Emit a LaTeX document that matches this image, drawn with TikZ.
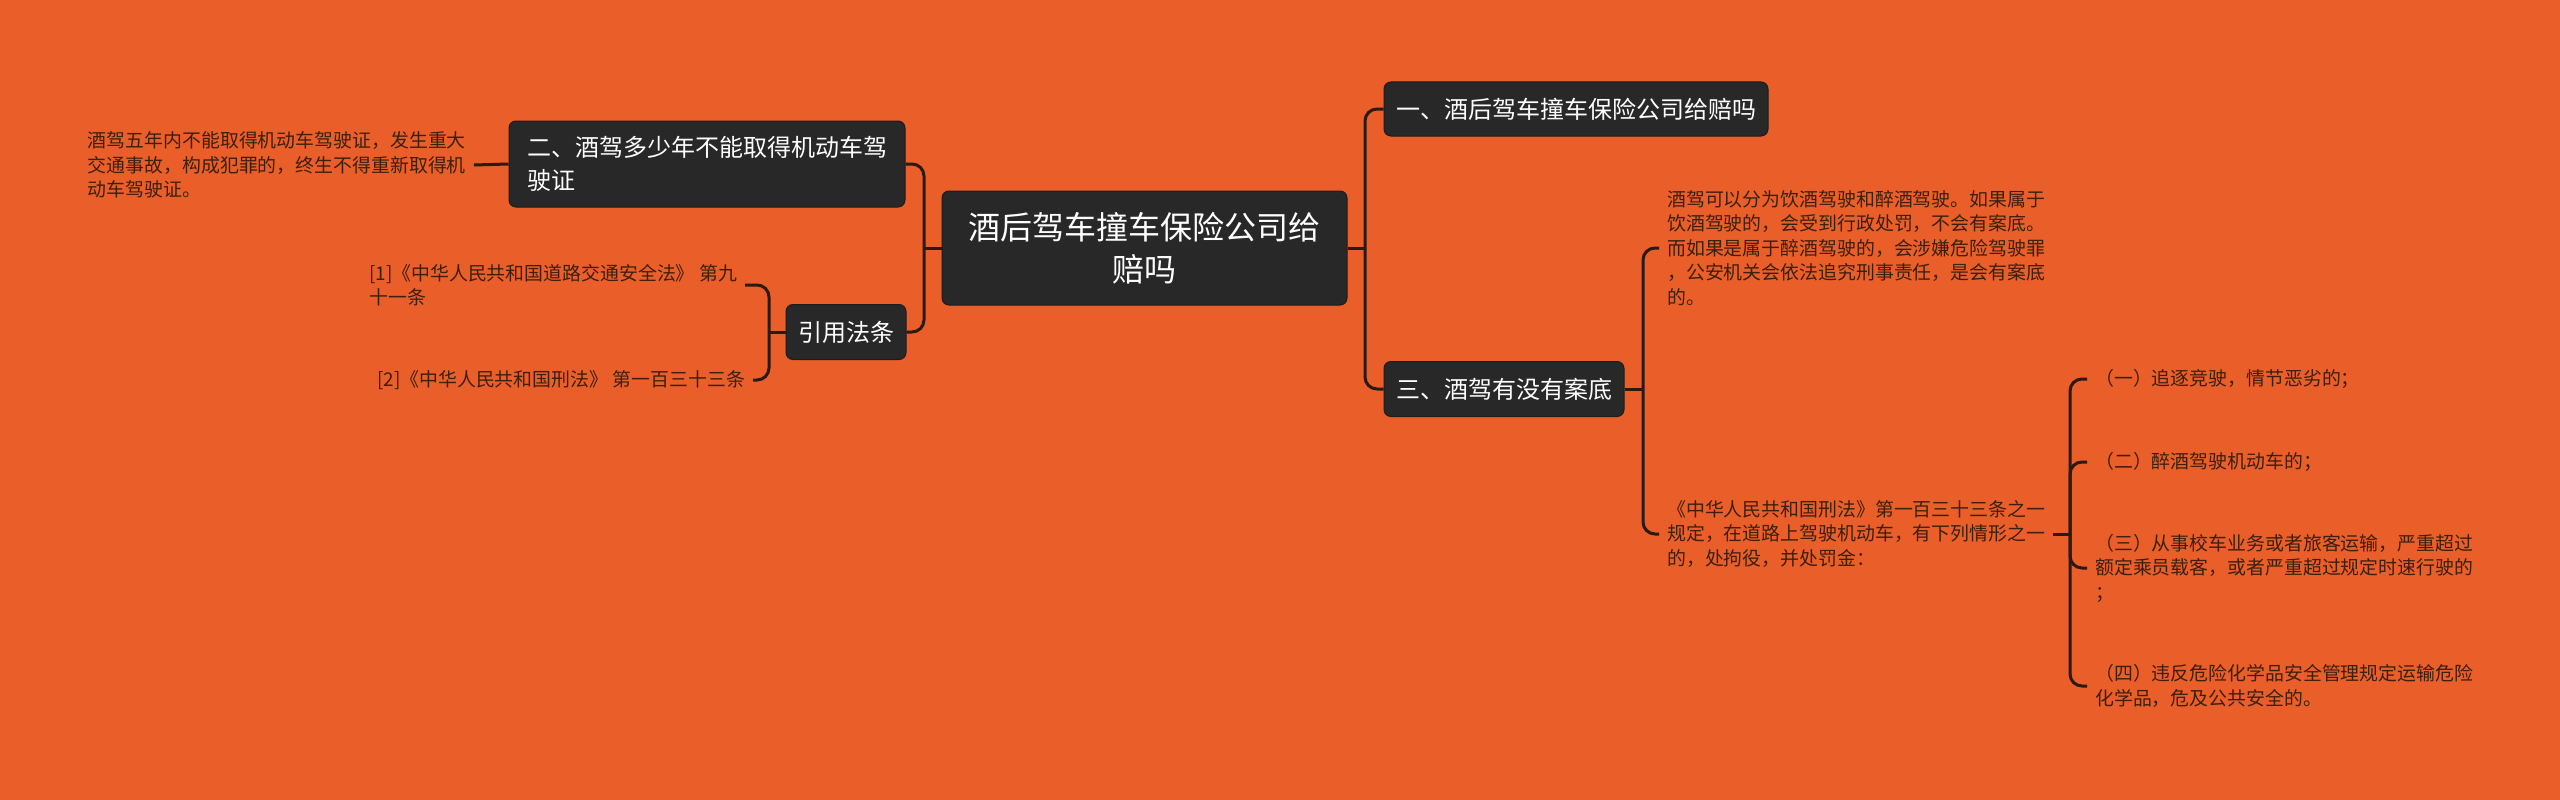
\documentclass[tikz,border=0pt]{standalone}
\usepackage{fontspec}
\setmainfont{Noto Sans CJK SC}
\definecolor{bg}{HTML}{EA5E29}
\definecolor{nodefill}{HTML}{282828}
\definecolor{nodeborder}{HTML}{1C1C1C}
\definecolor{leafc}{HTML}{3A2010}
\definecolor{linec}{HTML}{2A1A12}
\begin{document}
\begin{tikzpicture}[x=1pt,y=-1pt,
  topic/.style={fill=nodefill, draw=nodeborder, line width=1pt, rounded corners=7pt,
    text=white, font=\fontsize{24}{33}\selectfont, inner xsep=12pt, inner ysep=8pt, align=left},
  central/.style={topic, font=\fontsize{32}{42}\selectfont, align=center},
  leaf/.style={text=leafc, font=\fontsize{18.9}{24.5}\selectfont, align=left, inner xsep=8pt, inner ysep=0pt},
  conn/.style={draw=linec, line width=3pt, rounded corners=12pt}]
\path[fill=bg] (0,0) rectangle (2560,800);

% main nodes
\node[central, minimum width=405pt, minimum height=114pt] (c) at (1144.5,248) {酒后驾车撞车保险公司给\\赔吗};
\node[topic, minimum width=396pt, minimum height=86pt] (n2) at (707,164) {二、酒驾多少年不能取得机动车驾\\驶证};
\node[topic, align=center, minimum width=118pt, minimum height=55pt] (cite) at (846,332) {引用法条};
\node[topic, align=center, minimum width=382pt, minimum height=54pt] (n1) at (1576,109) {一、酒后驾车撞车保险公司给赔吗};
\node[topic, align=center, minimum width=238pt, minimum height=55pt] (n3) at (1504,389) {三、酒驾有没有案底};

% leaves left
\node[leaf, anchor=east] (t2) at (474,165) {酒驾五年内不能取得机动车驾驶证，发生重大\\交通事故，构成犯罪的，终生不得重新取得机\\动车驾驶证。};
\node[leaf, anchor=west] (c1) at (361,285) {[1]《中华人民共和国道路交通安全法》 第九\\十一条};
\node[leaf, anchor=west] (c2) at (369,380) {[2]《中华人民共和国刑法》 第一百三十三条};

% leaves right
\node[leaf, anchor=west] (t31) at (1659,248) {酒驾可以分为饮酒驾驶和醉酒驾驶。如果属于\\饮酒驾驶的，会受到行政处罚，不会有案底。\\而如果是属于醉酒驾驶的，会涉嫌危险驾驶罪\\，公安机关会依法追究刑事责任，是会有案底\\的。};
\node[leaf, anchor=west] (t32) at (1659,534) {《中华人民共和国刑法》第一百三十三条之一\\规定，在道路上驾驶机动车，有下列情形之一\\的，处拘役，并处罚金：};
\node[leaf, anchor=west] (k1) at (2087,379) {（一）追逐竞驶，情节恶劣的；};
\node[leaf, anchor=west] (k2) at (2087,462) {（二）醉酒驾驶机动车的；};
\node[leaf, anchor=west] (k3) at (2087,568) {（三）从事校车业务或者旅客运输，严重超过\\额定乘员载客，或者严重超过规定时速行驶的\\；};
\node[leaf, anchor=west] (k4) at (2087,686) {（四）违反危险化学品安全管理规定运输危险\\化学品，危及公共安全的。};

% bracket points
\coordinate (bl) at (924,248);
\coordinate (br) at (1365,248);
\coordinate (bc) at (769,332);
\coordinate (b3) at (1643,389);
\coordinate (b4) at (2070,534);

% connectors
\draw[conn] (c.west) -- (bl);
\draw[conn] (bl) |- (n2.east);
\draw[conn] (bl) |- (cite.east);
\draw[conn] (n2.west) -- (t2.east);
\draw[conn] (cite.west) -- (bc);
\draw[conn] (bc) |- (c1.east);
\draw[conn] (bc) |- (c2.east);

\draw[conn] (c.east) -- (br);
\draw[conn] (br) |- (n1.west);
\draw[conn] (br) |- (n3.west);
\draw[conn] (n3.east) -- (b3);
\draw[conn] (b3) |- (t31.west);
\draw[conn] (b3) |- (t32.west);
\draw[conn] (t32.east) -- (b4);
\draw[conn] (b4) |- (k1.west);
\draw[conn] (b4) |- (k2.west);
\draw[conn] (b4) |- (k3.west);
\draw[conn] (b4) |- (k4.west);
\end{tikzpicture}
\end{document}
